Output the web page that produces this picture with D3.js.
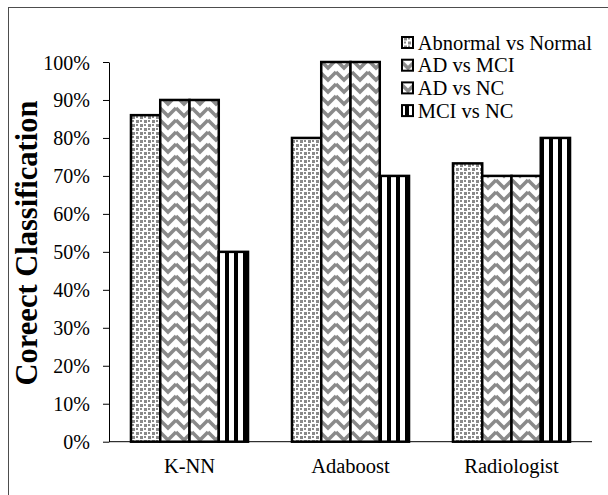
<!DOCTYPE html>
<html><head><meta charset="utf-8">
<script src="https://cdn.jsdelivr.net/npm/d3@7"></script>
<style>html,body{margin:0;padding:0;background:#fff;overflow:hidden}</style>
</head><body><svg id="chart" width="608" height="495"></svg>
<script>
const categories = ["K-NN", "Adaboost", "Radiologist"];
const seriesNames = ["Abnormal vs Normal", "AD vs MCI", "AD vs NC", "MCI vs NC"];
const abnormalVsNormal = [0.86, 0.80, 0.733];
const adVsMci = [0.90, 1.00, 0.70];
const adVsNc = [0.90, 1.00, 0.70];
const mciVsNc = [0.50, 0.70, 0.80];
const yTicks = [0, 0.1, 0.2, 0.3, 0.4, 0.5, 0.6, 0.7, 0.8, 0.9, 1.0];
const yTitle = "Coreect Classification";

const seriesValues = [abnormalVsNormal, adVsMci, adVsNc, mciVsNc];
const patternIds = ["pDots", "pZig", "pZig", "pStripes"];
const FONT = "'Liberation Serif','Times New Roman',Times,serif";

const svg = d3.select("#chart");
const defs = svg.append("defs");

// dotted pattern
const pd = defs.append("pattern").attr("id", "pDots").attr("patternUnits", "userSpaceOnUse")
  .attr("width", 8).attr("height", 8);
pd.append("rect").attr("width", 8).attr("height", 8).attr("fill", "#fff");
[[0,0,3,3],[4,4,3,3],[4,0,2,2],[0,4,2,2]].forEach(r =>
  pd.append("rect").attr("x", r[0]).attr("y", r[1]).attr("width", r[2]).attr("height", r[3]).attr("fill", "#8a8a8a"));

// zigzag pattern
const pz = defs.append("pattern").attr("id", "pZig").attr("patternUnits", "userSpaceOnUse")
  .attr("width", 16).attr("height", 12);
pz.append("rect").attr("width", 16).attr("height", 12).attr("fill", "#fff");
[-12, 0, 12].forEach(o =>
  pz.append("path").attr("d", `M0,${o} L8,${o + 8} L16,${o}`).attr("fill", "none")
    .attr("stroke", "#8a8a8a").attr("stroke-width", 3.5));

// vertical stripes
const ps = defs.append("pattern").attr("id", "pStripes").attr("patternUnits", "userSpaceOnUse")
  .attr("width", 9).attr("height", 10);
ps.append("rect").attr("width", 9).attr("height", 10).attr("fill", "#fff");
ps.append("rect").attr("width", 4).attr("height", 10).attr("fill", "#000");

// outer frame
svg.append("rect").attr("x", 8.5).attr("y", 7.5).attr("width", 700).attr("height", 600)
  .attr("fill", "none").attr("stroke", "#4d4d4d").attr("stroke-width", 1);

const x0 = d3.scaleBand().domain(categories).range([109, 592]).padding(0);
const groupW = x0.bandwidth() * 0.727;
const x1 = d3.scaleBand().domain(seriesNames).range([0, groupW]).padding(0);
const y = d3.scaleLinear().domain([0, 1]).range([441.7, 62]);

// bars
seriesNames.forEach((s, si) => {
  svg.append("g").selectAll("rect").data(categories).join("rect")
    .attr("x", c => x0(c) + (x0.bandwidth() - groupW) / 2 + x1(s))
    .attr("y", (c, i) => y(seriesValues[si][i]))
    .attr("width", x1.bandwidth())
    .attr("height", (c, i) => y(0) - y(seriesValues[si][i]))
    .attr("fill", `url(#${patternIds[si]})`)
    .attr("stroke", "#000").attr("stroke-width", 2.5);
});

// y axis
const yAxis = svg.append("g").attr("transform", "translate(109,0)")
  .call(d3.axisLeft(y).tickValues(yTicks).tickSize(6).tickSizeOuter(0).tickFormat(d3.format(".0%")));
yAxis.attr("font-family", FONT);
yAxis.select(".domain").attr("stroke", "#000");
yAxis.selectAll(".tick line").attr("stroke", "#000");
yAxis.selectAll(".tick text").attr("x", -19).attr("dy", null).attr("y", 7)
  .attr("font-family", FONT).attr("font-size", 20).attr("fill", "#000");

// x axis line
svg.append("line").attr("x1", 109).attr("x2", 592).attr("y1", y(0)).attr("y2", y(0))
  .attr("stroke", "#000").attr("stroke-width", 1);
svg.append("g").selectAll("text").data(categories).join("text")
  .attr("x", c => x0(c) + x0.bandwidth() / 2).attr("y", 473)
  .attr("text-anchor", "middle").attr("font-family", FONT).attr("font-size", 20.5)
  .attr("fill", "#000").text(c => c);

// y title
svg.append("text").attr("transform", "translate(37,243) rotate(-90)")
  .attr("text-anchor", "middle").attr("font-family", FONT).attr("font-weight", "bold")
  .attr("font-size", 30.5).attr("fill", "#000").text(yTitle);

// legend
const leg = svg.append("g").selectAll("g").data(seriesNames).join("g")
  .attr("transform", (d, i) => `translate(0,${49.5 + i * 22.7})`);
leg.append("rect").attr("x", 402).attr("y", -12.5).attr("width", 11).attr("height", 11)
  .attr("fill", (d, i) => `url(#${patternIds[i]})`).attr("stroke", "#000").attr("stroke-width", 2);
leg.append("text").attr("x", 417.7).attr("y", 0).attr("font-family", FONT).attr("font-size", 20.5)
  .attr("fill", "#000").text(d => d);
</script></body></html>
